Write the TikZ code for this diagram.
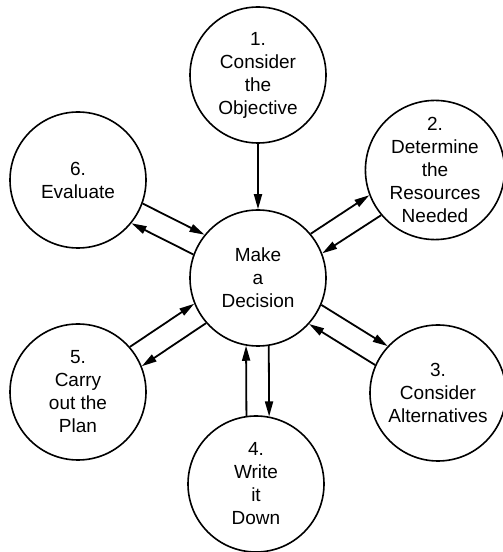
\documentclass[tikz,border=0pt]{standalone}
\usepackage{fontspec}
\setmainfont{Liberation Sans}
\usetikzlibrary{arrows.meta,calc}

\begin{document}
\begin{tikzpicture}[x=1pt,y=1pt,
		stepcircle/.style={circle,draw,line width=1.6pt,minimum size=136pt,inner sep=0pt,
			align=center,font=\fontsize{19}{23}\selectfont},
		link/.style={line width=1.8pt,-{Triangle[length=15pt,width=8pt]}}]
			\useasboundingbox (0,0) rectangle (503,552);
			\node [stepcircle] (decision) at (258,274) {Make\\a\\Decision};
			\node [stepcircle] (s-1) at (258,477) {1.\\Consider\\the\\Objective};
			\node [stepcircle] (s-2) at (435,382) {2.\\Determine\\the\\Resources\\Needed};
			\node [stepcircle] (s-3) at (438,159) {3.\\Consider\\Alternatives};
			\node [stepcircle] (s-4) at (256,68) {4.\\Write\\it\\Down};
			\node [stepcircle] (s-5) at (78,160) {5.\\Carry\\out the\\Plan};
			\node [stepcircle] (s-6) at (78,372) {6.\\Evaluate};
			\draw [link] (s-1) -- (decision);
			% two-way links, out on one side, back on the other
			\foreach \k/\a [evaluate={\p=\a+9.5; \q=\a+170.5; \r=\a-9.5; \s=\a+189.5;}] in
				{2/31.4,3/-32.6,4/-90.6,5/212.3,6/151.4}{
					\draw [link] (decision.\p) -- (s-\k.\q);
					\draw [link] (s-\k.\s) -- (decision.\r);
				}
			\end{tikzpicture}
\end{document}
